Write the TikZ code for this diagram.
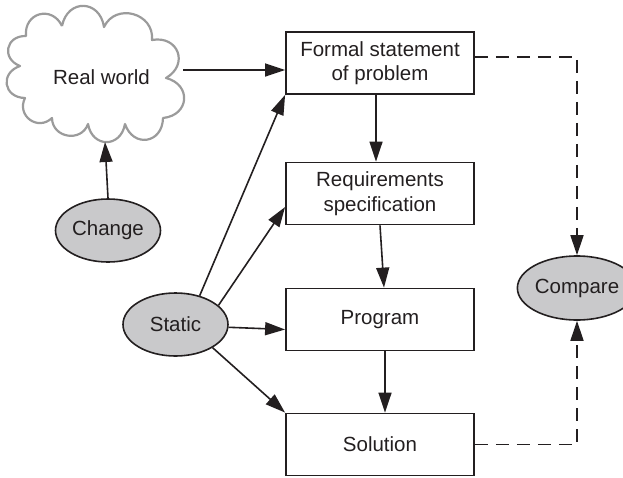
\documentclass[tikz,border=0pt]{standalone}
\usepackage{fontspec}
\setmainfont{Liberation Sans}
\usetikzlibrary{arrows.meta,shapes.geometric,calc}
\definecolor{ink}{RGB}{35,31,32}
\definecolor{fillgray}{RGB}{201,201,203}
\definecolor{cloudgray}{RGB}{155,155,155}
\begin{document}
\begin{tikzpicture}[x=1pt,y=-1pt,
  txt/.style={font=\fontsize{20.5}{24.5}\selectfont, text=ink},
  box/.style={txt, draw=ink, line width=1.8pt, minimum width=188pt, minimum height=62pt, inner sep=0pt, align=center},
  oval/.style={txt, ellipse, draw=ink, fill=fillgray, line width=1.6pt, minimum width=105pt, minimum height=63pt, inner sep=0pt},
  arr/.style={draw=ink, line width=1.6pt, -{Triangle[length=20pt,width=13pt]}},
  dashline/.style={draw=ink, line width=1.6pt, dash pattern=on 13pt off 8pt},
  bump/.style={bend left=80, looseness=#1}]
\useasboundingbox (0,0) rectangle (623,477);
% cloud
\draw[cloudgray, line width=2.2pt, line join=round]
  (62,26) to[bump=1.7] (104,27) to[bump=1.4] (152,40) to[bump=1.7] (166,78)
  to[bump=1.7] (163,118) to[bump=1.7] (125,124) to[bump=1.7] (88,124)
  to[bump=1.4] (52,118) to[bump=1.5] (25,98) to[bump=1.7] (20,66)
  to[bump=1.7] (26,36) to[bump=1.6] (62,26);
\node[txt] (rw) at (101.5,77) {Real world};
\coordinate (cloudE) at (183,70);
\coordinate (cloudS) at (105,142);
% boxes
\node[box] (formal) at (380,63) {Formal statement\\of problem};
\node[box] (req) at (380,193.5) {Requirements\\specification};
\node[box] (prog) at (380,319.5) {Program};
\node[box] (sol) at (380,444.5) {Solution};
% ovals
\node[oval] (change) at (108,230.5) {Change};
\node[oval] (static) at (175.5,324.5) {Static};
\node[oval, minimum width=92pt, minimum height=64pt] (compare) at (577,288) {Compare};
% arrows
\draw[arr] (cloudE) -- (cloudE -| formal.west);
\draw[arr] (change.north) -- (cloudS);
\draw[arr] (static.50) -- (formal.south west);
\draw[arr] (static.24) -- ($(req.west)+(0,13.5)$);
\draw[arr] (static.-3) -- ($(prog.west)+(0,10)$);
\draw[arr] (static.-32) -- (sol.north west);
\draw[arr] ($(formal.south)+(-4,0)$) -- ($(req.north)+(-4,0)$);
\draw[arr] (req.south) -- ($(prog.north)+(4,0)$);
\draw[arr] ($(prog.south)+(5,0)$) -- ($(sol.north)+(5,0)$);
\draw[dashline, -{Triangle[length=20pt,width=13pt]}] ($(formal.east)+(0,-6)$) -| (compare.north);
\draw[dashline, -{Triangle[length=20pt,width=13pt]}] (sol.east) -| (compare.south);
\end{tikzpicture}
\end{document}
